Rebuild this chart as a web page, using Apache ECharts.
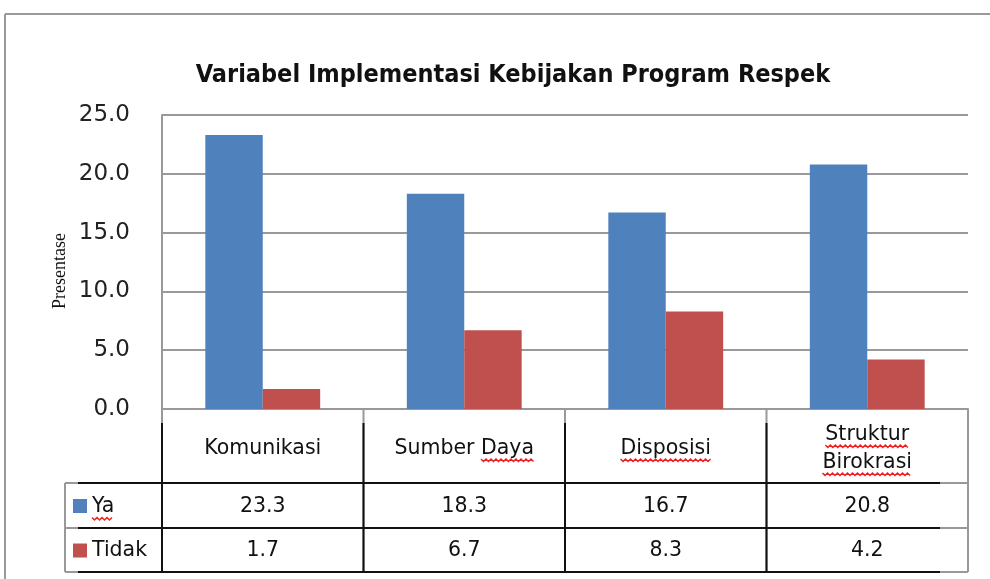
<!DOCTYPE html>
<html><head><meta charset="utf-8">
<script src="https://cdn.jsdelivr.net/npm/echarts@6/dist/echarts.min.js"></script>
<style>html,body{margin:0;padding:0;background:#fff}#c{width:990px;height:579px}</style>
</head><body><div id="c"></div>
<script>
// ---- data ----
const titleText = 'Variabel Implementasi Kebijakan Program Respek';
const yAxisName = 'Presentase';
const categories = ['Komunikasi', 'Sumber Daya', 'Disposisi', 'Struktur\nBirokrasi'];
const seriesNames = ['Ya', 'Tidak'];
const yaValues = [23.3, 18.3, 16.7, 20.8];
const tidakValues = [1.7, 6.7, 8.3, 4.2];
const yMin = 0, yMax = 25, yStep = 5;
const seriesColors = ['#4F81BD', '#C0504D'];
// words flagged by the spell checker in the source (wavy red underline)
const flaggedWords = ['Ya', 'Daya', 'Disposisi', 'Struktur', 'Birokrasi'];

const FONT = '"DejaVu Sans", Verdana, sans-serif';
const chart = echarts.init(document.getElementById('c'), null, {renderer: 'canvas'});
const gridL = 162, gridR = 22, gridT = 115, gridB = 170;

chart.setOption({
  animation: false,
  backgroundColor: '#fff',
  title: {
    text: titleText, left: 508, top: 58, textAlign: 'center',
    textStyle: {fontFamily: '"DejaVu Sans Condensed", "DejaVu Sans", sans-serif', fontWeight: 'bold', fontSize: 25, color: '#111'}
  },
  grid: {left: gridL, right: gridR, top: gridT, bottom: gridB},
  xAxis: {
    type: 'category', data: categories,
    axisLabel: {show: false}, axisTick: {show: false},
    axisLine: {lineStyle: {color: '#999', width: 2}}
  },
  yAxis: {
    type: 'value', min: yMin, max: yMax, interval: yStep,
    axisLine: {show: true, lineStyle: {color: '#999', width: 2}},
    axisTick: {show: false},
    axisLabel: {formatter: v => v.toFixed(1), margin: 32, fontFamily: FONT, fontSize: 23, color: '#222'},
    splitLine: {lineStyle: {color: '#999', width: 2}}
  },
  series: [
    {name: seriesNames[0], type: 'bar', data: yaValues, barGap: '0%', barCategoryGap: '43%', itemStyle: {color: seriesColors[0]}},
    {name: seriesNames[1], type: 'bar', data: tidakValues, barGap: '0%', barCategoryGap: '43%', itemStyle: {color: seriesColors[1]}}
  ]
});

// ---- data table & frame drawn under the plot ----
const ctx = document.createElement('canvas').getContext('2d');
function tw(t, size) { ctx.font = size + 'px ' + FONT; return ctx.measureText(t).width; }
function wavy(x1, x2, y) {
  const pts = []; let up = true;
  for (let x = x1; x <= x2 + 0.1; x += 2.5) { pts.push([x, y + (up ? 0 : 2.5)]); up = !up; }
  return {type: 'polyline', shape: {points: pts}, style: {stroke: '#e22', lineWidth: 1.5, fill: null}, silent: true};
}

const x0 = gridL, x1 = 990 - gridR;
const yHead = 579 - gridB; // top of the table (= axis line)
const yRow1 = 483, yRow2 = 528, yEnd = 572;
const legendL = 65, blackL = 78, blackR = 940;
const catW = (x1 - x0) / categories.length;
const g = [];
const gray = {stroke: '#999', lineWidth: 2};
const black = {stroke: '#111', lineWidth: 2};
function line(xa, ya, xb, yb, st) { g.push({type: 'line', shape: {x1: xa, y1: ya, x2: xb, y2: yb}, style: st, silent: true}); }

// outer frame
line(5, 14, 990, 14, gray);
line(5, 14, 5, 579, gray);

// y-axis title
g.push({type: 'text', silent: true, x: 60, y: 271, rotation: Math.PI / 2,
  style: {text: yAxisName, x: 0, y: 0, align: 'center', verticalAlign: 'middle', font: '18px "Liberation Serif", serif', fill: '#111'}});

// table grid (gray base)
line(x1, yHead, x1, yEnd, gray);
line(legendL, yRow1, legendL, yEnd, gray);
[yRow1, yRow2, yEnd].forEach(y => line(legendL, y, x1, y, gray));
for (let i = 0; i < categories.length; i++) {
  const x = x0 + i * catW;
  line(x, yHead, x, yEnd, gray);
  line(x, yHead + 14, x, yEnd, black);
}
[yRow1, yRow2, yEnd].forEach(y => line(blackL, y, blackR, y, black));

// header cells
const FS = 20.5, LH = 28;
categories.forEach((c, i) => {
  const cx = x0 + (i + 0.5) * catW;
  const cy = (yHead + yRow1) / 2 + 3;
  g.push({type: 'text', silent: true, style: {text: c, x: cx, y: cy, align: 'center', verticalAlign: 'middle', font: FS + 'px ' + FONT, fill: '#111', lineHeight: LH}});
  const lines = c.split('\n');
  lines.forEach((ln, k) => {
    const lw = tw(ln, FS);
    const ly = cy - (lines.length - 1) * LH / 2 + k * LH;
    let start = cx - lw / 2;
    ln.split(' ').forEach(w => {
      const ww = tw(w, FS);
      if (flaggedWords.indexOf(w) >= 0) g.push(wavy(start, start + ww, ly + 10));
      start += ww + tw(' ', FS);
    });
  });
});

// value rows
const rows = [yaValues, tidakValues];
const rowTop = [yRow1, yRow2];
const rowBot = [yRow2, yEnd];
rows.forEach((vals, r) => {
  const cy = (rowTop[r] + rowBot[r]) / 2 + 1;
  g.push({type: 'rect', silent: true, shape: {x: 73, y: cy - 7.5, width: 14, height: 14}, style: {fill: seriesColors[r]}});
  g.push({type: 'text', silent: true, style: {text: seriesNames[r], x: 92, y: cy, verticalAlign: 'middle', font: FS + 'px ' + FONT, fill: '#111'}});
  if (flaggedWords.indexOf(seriesNames[r]) >= 0) g.push(wavy(92, 92 + tw(seriesNames[r], FS), cy + 11));
  vals.forEach((v, i) => {
    const cx = x0 + (i + 0.5) * catW;
    g.push({type: 'text', silent: true, style: {text: v.toFixed(1), x: cx, y: cy, align: 'center', verticalAlign: 'middle', font: FS + 'px ' + FONT, fill: '#111'}});
  });
});

chart.setOption({graphic: {elements: g}});
</script>
</body></html>
